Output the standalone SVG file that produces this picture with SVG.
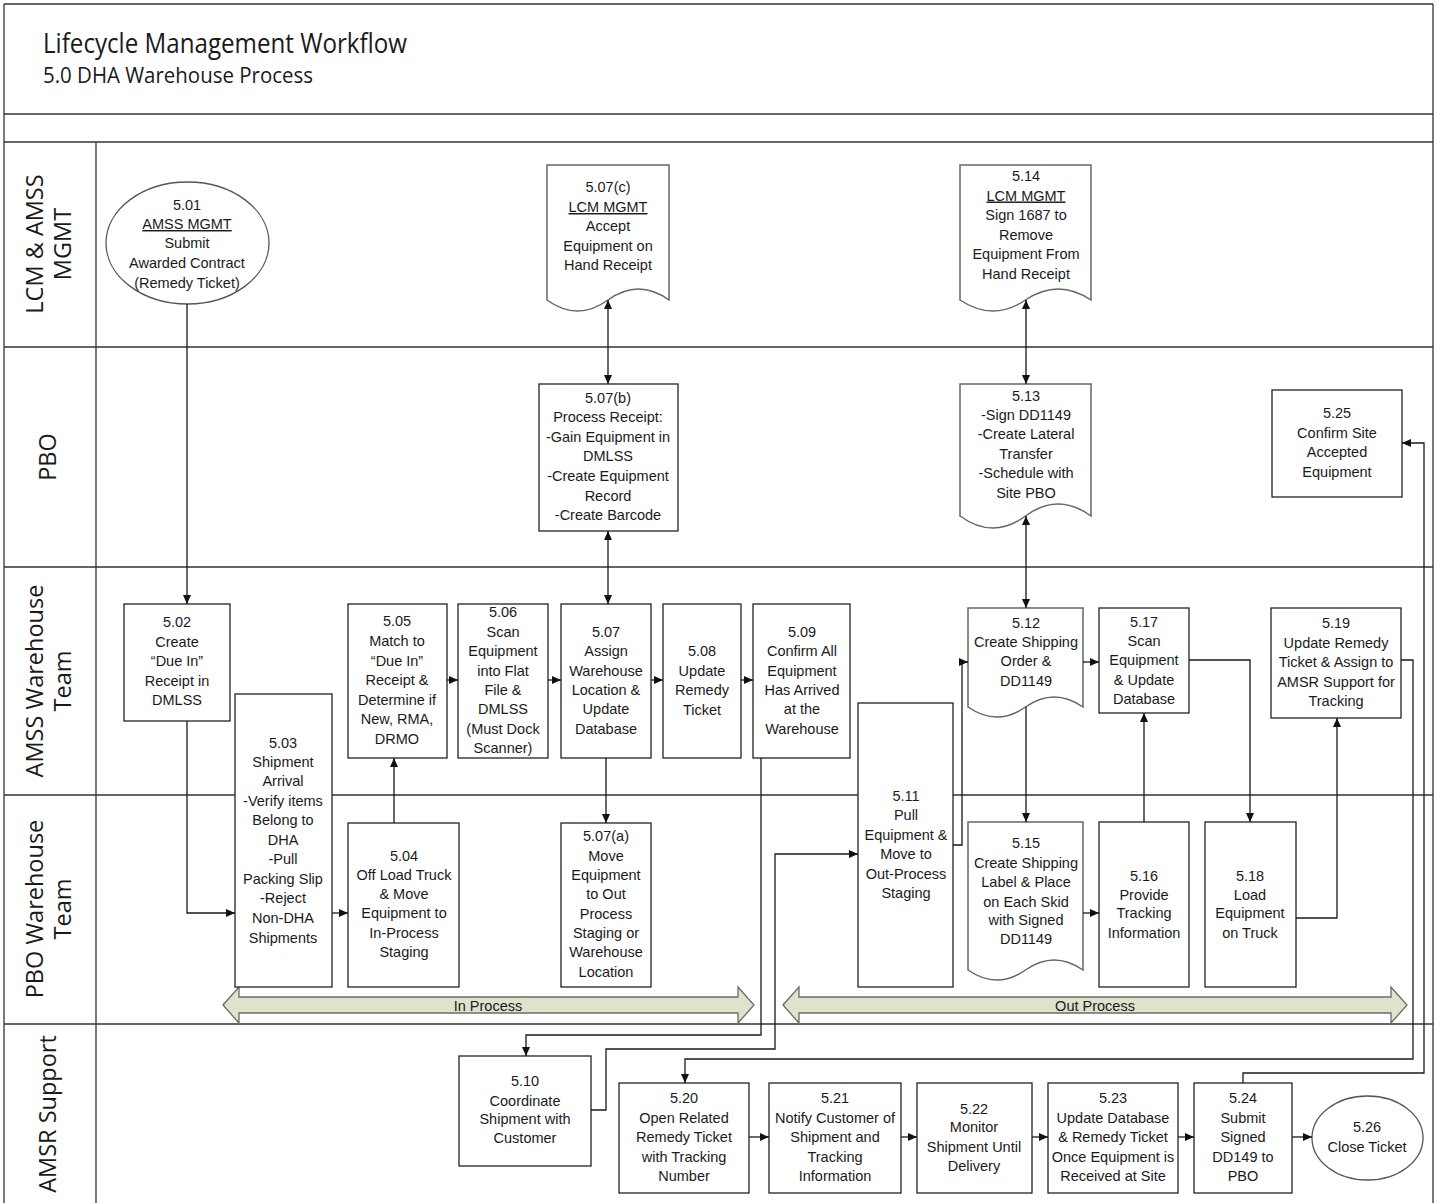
<svg xmlns="http://www.w3.org/2000/svg" width="1437" height="1203" viewBox="0 0 1437 1203">
<style>
.box{fill:#fff;stroke:#222;stroke-width:1.3}
.doc{fill:#fff;stroke:#666;stroke-width:1.5}
.oval{fill:#fff;stroke:#555;stroke-width:1.3}
.t{font-family:"Liberation Sans",Arial,sans-serif;font-size:14.5px;fill:#1a1a1a;text-anchor:middle}
.u{text-decoration:underline}
.ln{stroke:#333;stroke-width:1.3;fill:none}
.c{stroke:#1a1a1a;stroke-width:1.3;fill:none}
.lane{font-family:"Open Sans",sans-serif;font-size:23.5px;fill:#1a1a1a;text-anchor:middle}
.ttl{font-family:"Open Sans",sans-serif;fill:#1a1a1a}
.phase{fill:#dee3cb;stroke:#6b6b6b;stroke-width:1.3}
</style>
<defs>
<marker id="ah" viewBox="0 0 9 8" refX="9" refY="4" markerWidth="9" markerHeight="8" markerUnits="userSpaceOnUse" orient="auto-start-reverse">
<path d="M0,0 L9,4 L0,8 z" fill="#111"/>
</marker>
</defs>
<rect width="1437" height="1203" fill="#fff"/>
<g id="frame">
<path class="ln" d="M4,4 H1433 M4,4 V1203 M1433,4 V1203 M4,114 H1433 M4,142 H1433 M4,347 H1433 M4,567 H1433 M4,795 H1433 M4,1024 H1433 M96,142 V1203"/>
<text class="ttl" x="43" y="53" font-size="27" textLength="364" lengthAdjust="spacingAndGlyphs">Lifecycle Management Workflow</text>
<text class="ttl" x="43" y="83" font-size="21" textLength="270" lengthAdjust="spacingAndGlyphs">5.0 DHA Warehouse Process</text>
</g>
<g id="lanes">
<text class="lane" transform="rotate(-90 43 244)" x="43" y="244">LCM &amp; AMSS</text>
<text class="lane" transform="rotate(-90 71 244)" x="71" y="244">MGMT</text>
<text class="lane" transform="rotate(-90 56 457)" x="56" y="457">PBO</text>
<text class="lane" transform="rotate(-90 43 681)" x="43" y="681">AMSS Warehouse</text>
<text class="lane" transform="rotate(-90 71 681)" x="71" y="681">Team</text>
<text class="lane" transform="rotate(-90 43 909)" x="43" y="909">PBO Warehouse</text>
<text class="lane" transform="rotate(-90 71 909)" x="71" y="909">Team</text>
<text class="lane" transform="rotate(-90 56 1114)" x="56" y="1114">AMSR Support</text>
</g>
<g id="phases">
<path class="phase" d="M223,1005 L239,987 V997 H738 V987 L754,1005 L738,1023 V1013 H239 V1023 Z"/>
<text class="t" x="488" y="1011">In Process</text>
<path class="phase" d="M783,1005 L799,987 V997 H1391 V987 L1407,1005 L1391,1023 V1013 H799 V1023 Z"/>
<text class="t" x="1095" y="1011">Out Process</text>
</g>
<g id="n501">
<ellipse class="oval" cx="187.5" cy="243" rx="81.5" ry="61"/>
<text class="t"><tspan x="187" y="210">5.01</tspan><tspan x="187" y="248">Submit</tspan><tspan x="187" y="268">Awarded Contract</tspan><tspan x="187" y="288">(Remedy Ticket)</tspan></text>
<text class="t u" x="187" y="229">AMSS MGMT</text>
</g>
<g id="n507c">
<path class="doc" d="M547,165 H669 V300 Q638.5,278 608,300 Q577.5,322 547,300 Z"/>
<text class="t"><tspan x="608" y="192">5.07(c)</tspan><tspan x="608" y="231">Accept</tspan><tspan x="608" y="251">Equipment on</tspan><tspan x="608" y="270">Hand Receipt</tspan></text>
<text class="t u" x="608" y="212">LCM MGMT</text>
</g>
<g id="n514">
<path class="doc" d="M960,165 H1091 V300 Q1058,278 1025.5,300 Q993,322 960,300 Z"/>
<text class="t"><tspan x="1026" y="181">5.14</tspan><tspan x="1026" y="220">Sign 1687 to</tspan><tspan x="1026" y="239.5">Remove</tspan><tspan x="1026" y="259">Equipment From</tspan><tspan x="1026" y="278.5">Hand Receipt</tspan></text>
<text class="t u" x="1026" y="200.5">LCM MGMT</text>
</g>
<g id="n507b">
<rect class="box" x="539" y="384" width="139" height="147"/>
<text class="t"><tspan x="608" y="403">5.07(b)</tspan><tspan x="608" y="422">Process Receipt:</tspan><tspan x="608" y="442">-Gain Equipment in</tspan><tspan x="608" y="461">DMLSS</tspan><tspan x="608" y="481">-Create Equipment</tspan><tspan x="608" y="501">Record</tspan><tspan x="608" y="520">-Create Barcode</tspan></text>
</g>
<g id="n513">
<path class="doc" d="M960,384 H1091 V516 Q1058,492 1025.5,516 Q993,540 960,516 Z"/>
<text class="t"><tspan x="1026" y="401">5.13</tspan><tspan x="1026" y="420">-Sign DD1149</tspan><tspan x="1026" y="439">-Create Lateral</tspan><tspan x="1026" y="459">Transfer</tspan><tspan x="1026" y="478">-Schedule with</tspan><tspan x="1026" y="498">Site PBO</tspan></text>
</g>
<g id="n525">
<rect class="box" x="1272" y="390" width="130" height="107"/>
<text class="t"><tspan x="1337" y="418">5.25</tspan><tspan x="1337" y="438">Confirm Site</tspan><tspan x="1337" y="457">Accepted</tspan><tspan x="1337" y="477">Equipment</tspan></text>
</g>
<g id="n502">
<rect class="box" x="124" y="604" width="106" height="117"/>
<text class="t"><tspan x="177" y="627">5.02</tspan><tspan x="177" y="647">Create</tspan><tspan x="177" y="666">“Due In”</tspan><tspan x="177" y="686">Receipt in</tspan><tspan x="177" y="705">DMLSS</tspan></text>
</g>
<g id="n503">
<rect class="box" x="235" y="694" width="97" height="293"/>
<text class="t"><tspan x="283" y="748">5.03</tspan><tspan x="283" y="767">Shipment</tspan><tspan x="283" y="786">Arrival</tspan><tspan x="283" y="806">-Verify items</tspan><tspan x="283" y="825">Belong to</tspan><tspan x="283" y="845">DHA</tspan><tspan x="283" y="864">-Pull</tspan><tspan x="283" y="884">Packing Slip</tspan><tspan x="283" y="903">-Reject</tspan><tspan x="283" y="923">Non-DHA</tspan><tspan x="283" y="943">Shipments</tspan></text>
</g>
<g id="n504">
<rect class="box" x="348" y="823" width="111" height="164"/>
<text class="t"><tspan x="404" y="861">5.04</tspan><tspan x="404" y="880">Off Load Truck</tspan><tspan x="404" y="899">&amp; Move</tspan><tspan x="404" y="918">Equipment to</tspan><tspan x="404" y="938">In-Process</tspan><tspan x="404" y="957">Staging</tspan></text>
</g>
<g id="n505">
<rect class="box" x="348" y="604" width="99" height="154"/>
<text class="t"><tspan x="397" y="626">5.05</tspan><tspan x="397" y="646">Match to</tspan><tspan x="397" y="666">“Due In”</tspan><tspan x="397" y="685">Receipt &amp;</tspan><tspan x="397" y="705">Determine if</tspan><tspan x="397" y="724">New, RMA,</tspan><tspan x="397" y="744">DRMO</tspan></text>
</g>
<g id="n506">
<rect class="box" x="458" y="604" width="90" height="154"/>
<text class="t"><tspan x="503" y="617">5.06</tspan><tspan x="503" y="637">Scan</tspan><tspan x="503" y="656">Equipment</tspan><tspan x="503" y="676">into Flat</tspan><tspan x="503" y="695">File &amp;</tspan><tspan x="503" y="714">DMLSS</tspan><tspan x="503" y="734">(Must Dock</tspan><tspan x="503" y="753">Scanner)</tspan></text>
</g>
<g id="n507">
<rect class="box" x="561" y="604" width="90" height="154"/>
<text class="t"><tspan x="606" y="637">5.07</tspan><tspan x="606" y="656">Assign</tspan><tspan x="606" y="676">Warehouse</tspan><tspan x="606" y="695">Location &amp;</tspan><tspan x="606" y="714">Update</tspan><tspan x="606" y="734">Database</tspan></text>
</g>
<g id="n508">
<rect class="box" x="663" y="604" width="78" height="154"/>
<text class="t"><tspan x="702" y="656">5.08</tspan><tspan x="702" y="675.5">Update</tspan><tspan x="702" y="695">Remedy</tspan><tspan x="702" y="714.5">Ticket</tspan></text>
</g>
<g id="n509">
<rect class="box" x="753" y="604" width="97" height="154"/>
<text class="t"><tspan x="802" y="637">5.09</tspan><tspan x="802" y="656">Confirm All</tspan><tspan x="802" y="676">Equipment</tspan><tspan x="802" y="695">Has Arrived</tspan><tspan x="802" y="714">at the</tspan><tspan x="802" y="734">Warehouse</tspan></text>
</g>
<g id="n507a">
<rect class="box" x="561" y="823" width="90" height="164"/>
<text class="t"><tspan x="606" y="841">5.07(a)</tspan><tspan x="606" y="861">Move</tspan><tspan x="606" y="880">Equipment</tspan><tspan x="606" y="899">to Out</tspan><tspan x="606" y="919">Process</tspan><tspan x="606" y="938">Staging or</tspan><tspan x="606" y="957">Warehouse</tspan><tspan x="606" y="977">Location</tspan></text>
</g>
<g id="n511">
<rect class="box" x="858" y="703" width="95" height="284"/>
<text class="t"><tspan x="906" y="801">5.11</tspan><tspan x="906" y="820">Pull</tspan><tspan x="906" y="840">Equipment &amp;</tspan><tspan x="906" y="859">Move to</tspan><tspan x="906" y="879">Out-Process</tspan><tspan x="906" y="898">Staging</tspan></text>
</g>
<g id="n512">
<path class="doc" d="M968,608 H1083 V707 Q1054,687 1025.5,707 Q997,727 968,707 Z"/>
<text class="t"><tspan x="1026" y="628">5.12</tspan><tspan x="1026" y="647">Create Shipping</tspan><tspan x="1026" y="666">Order &amp;</tspan><tspan x="1026" y="686">DD1149</tspan></text>
</g>
<g id="n517">
<rect class="box" x="1099" y="608" width="90" height="105"/>
<text class="t"><tspan x="1144" y="627">5.17</tspan><tspan x="1144" y="645.5">Scan</tspan><tspan x="1144" y="665">Equipment</tspan><tspan x="1144" y="684.5">&amp; Update</tspan><tspan x="1144" y="704">Database</tspan></text>
</g>
<g id="n519">
<rect class="box" x="1271" y="608" width="130" height="110"/>
<text class="t"><tspan x="1336" y="628">5.19</tspan><tspan x="1336" y="648">Update Remedy</tspan><tspan x="1336" y="667">Ticket &amp; Assign to</tspan><tspan x="1336" y="687">AMSR Support for</tspan><tspan x="1336" y="706">Tracking</tspan></text>
</g>
<g id="n515">
<path class="doc" d="M968,822 H1083 V970 Q1054,950 1025.5,970 Q997,990 968,970 Z"/>
<text class="t"><tspan x="1026" y="848">5.15</tspan><tspan x="1026" y="868">Create Shipping</tspan><tspan x="1026" y="887">Label &amp; Place</tspan><tspan x="1026" y="907">on Each Skid</tspan><tspan x="1026" y="925">with Signed</tspan><tspan x="1026" y="944">DD1149</tspan></text>
</g>
<g id="n516">
<rect class="box" x="1099" y="822" width="90" height="165"/>
<text class="t"><tspan x="1144" y="881">5.16</tspan><tspan x="1144" y="900">Provide</tspan><tspan x="1144" y="918">Tracking</tspan><tspan x="1144" y="938">Information</tspan></text>
</g>
<g id="n518">
<rect class="box" x="1205" y="822" width="91" height="165"/>
<text class="t"><tspan x="1250" y="881">5.18</tspan><tspan x="1250" y="900">Load</tspan><tspan x="1250" y="918">Equipment</tspan><tspan x="1250" y="938">on Truck</tspan></text>
</g>
<g id="n510">
<rect class="box" x="459" y="1056" width="132" height="110"/>
<text class="t"><tspan x="525" y="1086">5.10</tspan><tspan x="525" y="1106">Coordinate</tspan><tspan x="525" y="1124">Shipment with</tspan><tspan x="525" y="1143">Customer</tspan></text>
</g>
<g id="n520">
<rect class="box" x="619" y="1083" width="130" height="110"/>
<text class="t"><tspan x="684" y="1103">5.20</tspan><tspan x="684" y="1123">Open Related</tspan><tspan x="684" y="1142">Remedy Ticket</tspan><tspan x="684" y="1162">with Tracking</tspan><tspan x="684" y="1181">Number</tspan></text>
</g>
<g id="n521">
<rect class="box" x="769" y="1083" width="132" height="110"/>
<text class="t"><tspan x="835" y="1103">5.21</tspan><tspan x="835" y="1123">Notify Customer of</tspan><tspan x="835" y="1142">Shipment and</tspan><tspan x="835" y="1162">Tracking</tspan><tspan x="835" y="1181">Information</tspan></text>
</g>
<g id="n522">
<rect class="box" x="917" y="1083" width="115" height="110"/>
<text class="t"><tspan x="974" y="1114">5.22</tspan><tspan x="974" y="1132">Monitor</tspan><tspan x="974" y="1152">Shipment Until</tspan><tspan x="974" y="1171">Delivery</tspan></text>
</g>
<g id="n523">
<rect class="box" x="1048" y="1083" width="130" height="110"/>
<text class="t"><tspan x="1113" y="1103">5.23</tspan><tspan x="1113" y="1123">Update Database</tspan><tspan x="1113" y="1142">&amp; Remedy Ticket</tspan><tspan x="1113" y="1162">Once Equipment is</tspan><tspan x="1113" y="1181">Received at Site</tspan></text>
</g>
<g id="n524">
<rect class="box" x="1194" y="1083" width="98" height="110"/>
<text class="t"><tspan x="1243" y="1103">5.24</tspan><tspan x="1243" y="1123">Submit</tspan><tspan x="1243" y="1142">Signed</tspan><tspan x="1243" y="1162">DD149 to</tspan><tspan x="1243" y="1181">PBO</tspan></text>
</g>
<g id="n526">
<ellipse class="oval" cx="1367.5" cy="1138" rx="55.5" ry="42"/>
<text class="t"><tspan x="1367" y="1132">5.26</tspan><tspan x="1367" y="1152">Close Ticket</tspan></text>
</g>
<g id="connectors">
<path class="c" marker-end="url(#ah)" d="M187,304 V604"/>
<path class="c" marker-end="url(#ah)" d="M187,721 V913 H235"/>
<path class="c" marker-end="url(#ah)" d="M332,913 H348"/>
<path class="c" marker-end="url(#ah)" d="M394,823 V758"/>
<path class="c" marker-end="url(#ah)" d="M447,680 H458"/>
<path class="c" marker-end="url(#ah)" d="M548,680 H561"/>
<path class="c" marker-end="url(#ah)" d="M651,680 H663"/>
<path class="c" marker-end="url(#ah)" d="M741,680 H753"/>
<path class="c" marker-start="url(#ah)" marker-end="url(#ah)" d="M608,531 V604"/>
<path class="c" marker-start="url(#ah)" marker-end="url(#ah)" d="M608,300 V384"/>
<path class="c" marker-end="url(#ah)" d="M606,758 V823"/>
<path class="c" marker-end="url(#ah)" d="M761,758 V1035 H526 V1056"/>
<path class="c" marker-end="url(#ah)" d="M591,1110 H606 V1049 H775 V854 H858"/>
<path class="c" marker-end="url(#ah)" d="M953,845 H962 V662 H968"/>
<path class="c" marker-start="url(#ah)" marker-end="url(#ah)" d="M1026,300 V384"/>
<path class="c" marker-start="url(#ah)" marker-end="url(#ah)" d="M1026,516 V608"/>
<path class="c" marker-end="url(#ah)" d="M1083,662 H1099"/>
<path class="c" marker-end="url(#ah)" d="M1026,707 V822"/>
<path class="c" marker-end="url(#ah)" d="M1083,913 H1099"/>
<path class="c" marker-end="url(#ah)" d="M1144,822 V713"/>
<path class="c" marker-end="url(#ah)" d="M1189,660 H1250 V822"/>
<path class="c" marker-end="url(#ah)" d="M1296,918 H1337 V718"/>
<path class="c" marker-end="url(#ah)" d="M1401,660 H1413 V1059 H685 V1083"/>
<path class="c" marker-end="url(#ah)" d="M749,1137 H769"/>
<path class="c" marker-end="url(#ah)" d="M901,1137 H917"/>
<path class="c" marker-end="url(#ah)" d="M1032,1137 H1048"/>
<path class="c" marker-end="url(#ah)" d="M1178,1137 H1194"/>
<path class="c" marker-end="url(#ah)" d="M1292,1137 H1312"/>
<path class="c" marker-end="url(#ah)" d="M1243,1083 V1073 H1424 V443 H1402"/>
</g>
</svg>
